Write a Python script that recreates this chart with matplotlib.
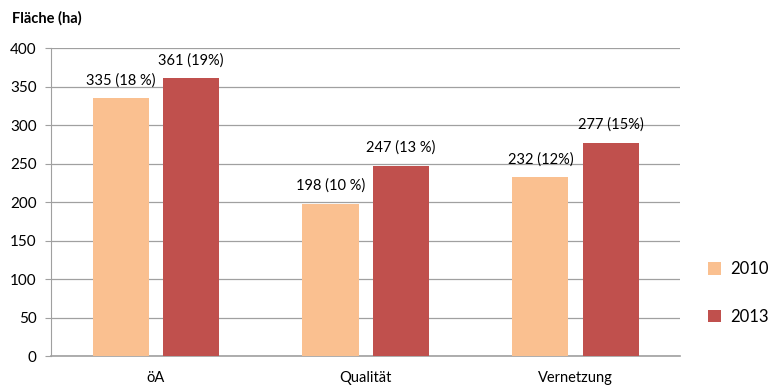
import matplotlib.pyplot as plt
import numpy as np

plt.rcParams['font.family'] = ['Lato', 'DejaVu Sans']

categories = ['öA', 'Qualität', 'Vernetzung']
years = ['2010', '2013']
values_2010 = [335, 198, 232]
values_2013 = [361, 247, 277]
labels_2010 = ['335 (18 %)', '198 (10 %)', '232 (12%)']
labels_2013 = ['361 (19%)', '247 (13 %)', '277 (15%)']
colors = ['#FAC090', '#C0504D']

fig = plt.figure(figsize=(7.68, 3.85), dpi=100)
ax = fig.add_axes([0.066, 0.075, 0.820, 0.8])

x = np.arange(len(categories))
w = 0.267
off = 0.167
b1 = ax.bar(x - off, values_2010, w, color=colors[0], label=years[0], zorder=3)
b2 = ax.bar(x + off, values_2013, w, color=colors[1], label=years[1], zorder=3)

for bars, labs in [(b1, labels_2010), (b2, labels_2013)]:
    for b, t in zip(bars, labs):
        ax.text(b.get_x() + b.get_width() / 2, b.get_height() + 14, t,
                ha='center', va='bottom', fontsize=10.5)

ax.set_xlim(-0.5, 2.5)
ax.set_ylim(0, 400)
ax.set_yticks(range(0, 401, 50))
ax.set_xticks(x)
ax.set_xticklabels(categories, fontsize=10.5)
ax.tick_params(axis='x', length=0, pad=11)
ax.tick_params(axis='y', length=4, color='#A0A0A0', labelsize=11, pad=6)
ax.yaxis.grid(True, color='#A0A0A0', linewidth=0.9, zorder=0)
for s in ['top', 'right']:
    ax.spines[s].set_visible(False)
ax.spines['left'].set_color('#A0A0A0')
ax.spines['bottom'].set_color('#A0A0A0')
ax.spines['bottom'].set_linewidth(1.2)

fig.text(0.015, 0.952, 'Fläche (ha)', fontsize=10.5, fontweight='bold', va='center')

ax.legend(loc='center left', bbox_to_anchor=(1.02, 0.205), frameon=False,
          fontsize=12, handlelength=0.8, handleheight=0.8,
          labelspacing=1.9, handletextpad=0.5)

fig.savefig('out.png', dpi=100)
